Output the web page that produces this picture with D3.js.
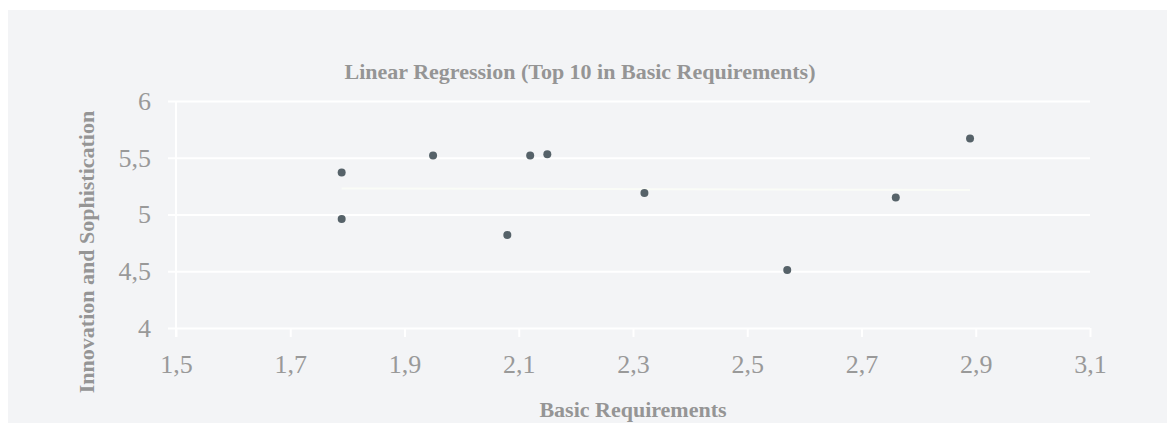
<!DOCTYPE html>
<html>
<head>
<meta charset="utf-8">
<script src="https://cdn.jsdelivr.net/npm/d3@7"></script>
<style>
  body { margin: 0; background: #fff; }
  text { font-family: "Liberation Serif", "DejaVu Serif", serif; }
</style>
</head>
<body>
<div id="chart"></div>
<script>
// data
const basicReq = [1.79, 1.79, 1.95, 2.12, 2.15, 2.08, 2.32, 2.57, 2.76, 2.89];
const innovation = [5.37, 4.96, 5.52, 5.52, 5.53, 4.82, 5.19, 4.51, 5.15, 5.67];
const xTicks = [1.5, 1.7, 1.9, 2.1, 2.3, 2.5, 2.7, 2.9, 3.1];
const yTicks = [4, 4.5, 5, 5.5, 6];

const W = 1168, H = 423;
const margin = { top: 101, right: 78, bottom: 95, left: 176 };
const width = W - margin.left - margin.right;
const height = H - margin.top - margin.bottom;

const svg = d3.select("#chart")
    .append("svg")
    .attr("width", W)
    .attr("height", H);

// background panel
svg.append("rect")
    .attr("x", 8)
    .attr("y", 10)
    .attr("width", 1159)
    .attr("height", H - 10)
    .attr("fill", "#f3f4f6");

const g = svg.append("g")
    .attr("transform", `translate(${margin.left}, ${margin.top})`);

const comma = d => String(d).replace(".", ",");

const x = d3.scaleLinear().domain([1.5, 3.1]).range([0, width]);
const y = d3.scaleLinear().domain([4, 6]).range([height, 0]);

// horizontal grid + y labels
const yAxis = g.append("g")
    .call(d3.axisLeft(y).tickValues(yTicks).tickSize(-width - 8).tickPadding(17).tickFormat(comma))
    .attr("transform", "translate(-8,0)");
yAxis.select(".domain").remove();
yAxis.selectAll("line").attr("stroke", "#ffffff").attr("stroke-width", 2).attr("x1", 0).attr("x2", width + 8);
yAxis.selectAll("text")
    .attr("fill", "#999999")
    .style("font-size", "26px");

// x axis ticks + labels
const xAxis = g.append("g")
    .attr("transform", `translate(0, ${height})`)
    .call(d3.axisBottom(x).tickValues(xTicks).tickSize(9).tickPadding(18).tickFormat(comma));
xAxis.select(".domain").remove();
xAxis.selectAll("line").attr("stroke", "#ffffff").attr("stroke-width", 2);
xAxis.selectAll("text")
    .attr("fill", "#999999")
    .style("font-size", "26px");

// left axis line
g.append("line")
    .attr("x1", x(1.5)).attr("x2", x(1.5))
    .attr("y1", y(6)).attr("y2", height + 9)
    .attr("stroke", "#ffffff")
    .attr("stroke-width", 2);

// regression line
const data = basicReq.map((d, i) => ({ x: d, y: innovation[i] }));
const mx = d3.mean(data, d => d.x), my = d3.mean(data, d => d.y);
const slope = d3.sum(data, d => (d.x - mx) * (d.y - my)) / d3.sum(data, d => (d.x - mx) ** 2);
const x0 = d3.min(basicReq), x1 = d3.max(basicReq);
g.append("line")
    .attr("x1", x(x0)).attr("x2", x(x1))
    .attr("y1", y(my + slope * (x0 - mx))).attr("y2", y(my + slope * (x1 - mx)))
    .attr("stroke", "#fafcf7")
    .attr("stroke-width", 2);

// points
g.append("g")
    .selectAll("circle")
    .data(data)
    .join("circle")
    .attr("cx", d => x(d.x))
    .attr("cy", d => y(d.y))
    .attr("r", 4)
    .attr("fill", "#566269");

// title
svg.append("text")
    .attr("x", 580)
    .attr("y", 79)
    .attr("text-anchor", "middle")
    .attr("fill", "#959595")
    .style("font-size", "22px")
    .style("font-weight", "bold")
    .text("Linear Regression (Top 10 in Basic Requirements)");

// x label
svg.append("text")
    .attr("x", margin.left + width / 2)
    .attr("y", 417)
    .attr("text-anchor", "middle")
    .attr("fill", "#959595")
    .style("font-size", "22px")
    .style("font-weight", "bold")
    .text("Basic Requirements");

// y label
svg.append("text")
    .attr("transform", "translate(94, 252) rotate(-90)")
    .attr("text-anchor", "middle")
    .attr("fill", "#959595")
    .style("font-size", "22px")
    .style("font-weight", "bold")
    .text("Innovation and Sophistication");
</script>
</body>
</html>
